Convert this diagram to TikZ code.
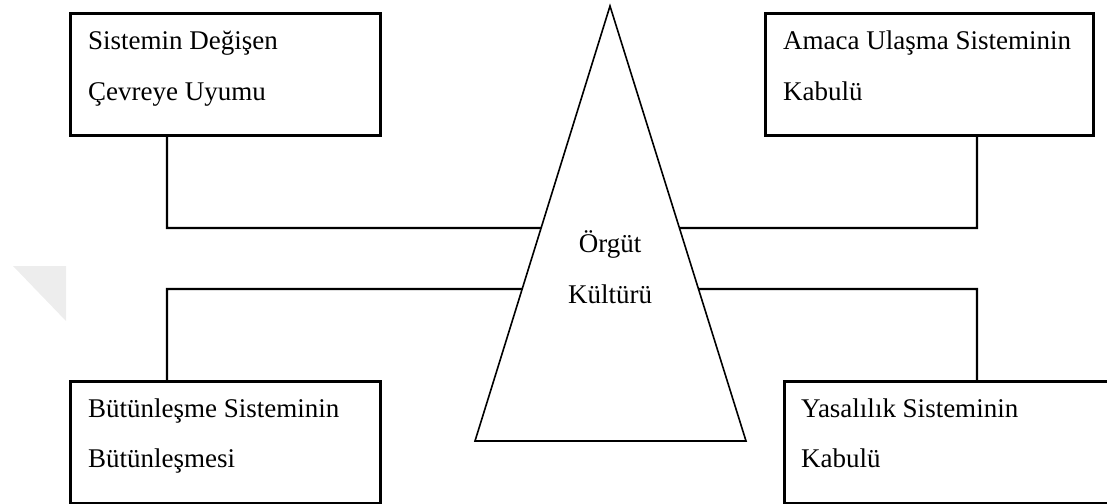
\documentclass[tikz,border=0pt]{standalone}
\usepackage{fontspec}
\setmainfont{Liberation Serif}
\usetikzlibrary{calc}
\begin{document}
\begin{tikzpicture}[x=1pt,y=-1pt,
  box/.style={draw=black,line width=2.6pt,fill=white,rectangle,inner sep=0pt,anchor=north west},
  lbl/.style={anchor=base west,inner sep=0pt,font=\fontsize{27}{32}\selectfont},
  mid/.style={anchor=base,inner sep=0pt,font=\fontsize{27}{32}\selectfont},
  link/.style={draw=black,line width=2.2pt},
  cone/.style={draw=black,line width=1.6pt,line join=miter}]
\useasboundingbox (0,0) rectangle (1107,503);

% faint mark at the left margin
\fill[black!7] (13,266) -- (66,266) -- (66,321) -- cycle;

% central triangle
\coordinate (apex) at (610,6);
\coordinate (bl) at (475,441);
\coordinate (br) at (746,441);
\draw[cone] (apex) -- (bl) -- (br) -- cycle;
\node[mid] (org1) at (610,252) {Örgüt};
\node[mid] (org2) at (610,303) {Kültürü};

% points where the connectors meet the triangle
\coordinate (el1) at ($(apex)!0.5103!(bl)$);
\coordinate (el2) at ($(apex)!0.6506!(bl)$);
\coordinate (er1) at ($(apex)!0.5103!(br)$);
\coordinate (er2) at ($(apex)!0.6506!(br)$);

% elbows of the connectors
\coordinate (k1) at (167,228);
\coordinate (k2) at (167,289);
\coordinate (k3) at (977,228);
\coordinate (k4) at (977,289);

% the four boxes
\node[box,minimum width=310pt,minimum height=122pt] (tl) at (69,12) {};
\node[box,minimum width=328pt,minimum height=122pt] (tr) at (764,12) {};
\node[box,minimum width=310pt,minimum height=122pt] (bbl) at (69,380) {};
\node[box,minimum width=340pt,minimum height=122pt] (bbr) at (783,380) {};

\node[lbl] (tl1) at (88,50) {Sistemin Değişen};
\node[lbl] (tl2) at (88,100) {Çevreye Uyumu};
\node[lbl] (tr1) at (783,50) {Amaca Ulaşma Sisteminin};
\node[lbl] (tr2) at (783,100) {Kabulü};
\node[lbl] (bl1) at (88,417) {Bütünleşme Sisteminin};
\node[lbl] (bl2) at (88,467) {Bütünleşmesi};
\node[lbl] (br1) at (801,417) {Yasalılık Sisteminin};
\node[lbl] (br2) at (801,467) {Kabulü};

% connectors
\draw[link] (tl.south -| k1) -- (k1) -- (el1);
\draw[link] (bbl.north -| k2) -- (k2) -- (el2);
\draw[link] (tr.south -| k3) -- (k3) -- (er1);
\draw[link] (bbr.north -| k4) -- (k4) -- (er2);
\end{tikzpicture}
\end{document}
